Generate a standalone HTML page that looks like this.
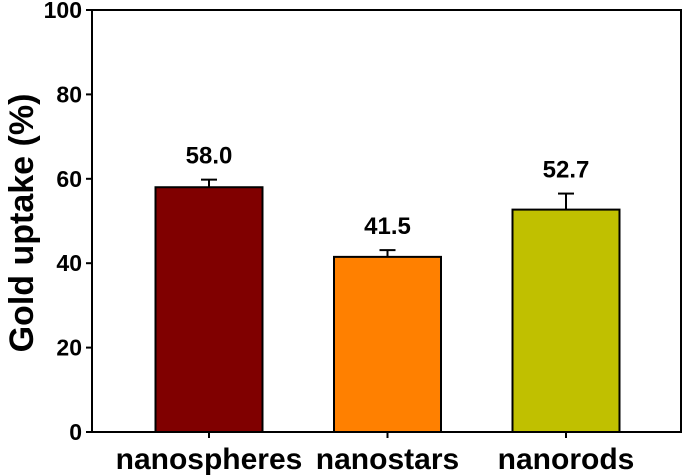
<!DOCTYPE html>
<html><head><meta charset="utf-8"><style>
body{margin:0;background:#fff;}
svg{display:block;font-family:"Liberation Sans",Arial,sans-serif;font-weight:bold;}
</style></head><body>
<svg id="chart" width="685" height="476"></svg>
<script>
const categories=["nanospheres","nanostars","nanorods"];
const values=[58.0,41.5,52.7];
const errors=[1.8,1.6,3.8];
const colors=["#800000","#ff8000","#c0c000"];
const yTicks=[0,20,40,60,80,100];
const valueLabels=["58.0","41.5","52.7"];

const NS="http://www.w3.org/2000/svg";
const svg=document.getElementById("chart");
const L=92,R=681,T=10,B=432;
const y=v=>B-(v/100)*(B-T);
const x=i=>209+i*178.5;
const bw=107;
function mk(tag,attrs,parent){const e=document.createElementNS(NS,tag);for(const k in attrs)e.setAttribute(k,attrs[k]);(parent||svg).appendChild(e);return e;}

const frame=mk("rect",{x:L,y:T,width:R-L,height:B-T,fill:"none",stroke:"#000","stroke-width":2});



yTicks.forEach(t=>{
  const ln=mk("line",{x1:L-6,x2:L,y1:y(t),y2:y(t),stroke:"#000","stroke-width":2});
  
  
  const tx=mk("text",{x:L-10,y:y(t)+8,"text-anchor":"end","font-size":23});
  tx.textContent=t;
  
  
});

categories.forEach((c,i)=>{
  const cx=x(i);
  const eb=mk("g",{});
  
  
  mk("line",{x1:cx,x2:cx,y1:y(values[i]),y2:y(values[i]+errors[i]),stroke:"#000","stroke-width":2},eb);
  mk("line",{x1:cx-8,x2:cx+8,y1:y(values[i]+errors[i]),y2:y(values[i]+errors[i]),stroke:"#000","stroke-width":2},eb);
  const r=mk("rect",{x:cx-bw/2,y:y(values[i]),width:bw,height:B-y(values[i]),fill:colors[i],stroke:"#000","stroke-width":2});
  
  
  const vl=mk("text",{x:cx,y:y(values[i]+errors[i])-16,"text-anchor":"middle","font-size":24});
  vl.textContent=valueLabels[i];
  
  
  const tk=mk("line",{x1:cx,x2:cx,y1:B,y2:B+6,stroke:"#000","stroke-width":2});
  
  
  const xl=mk("text",{x:cx,y:B+37,"text-anchor":"middle","font-size":30});
  xl.textContent=c;
  
  
});

const yt=mk("text",{x:0,y:0,"text-anchor":"middle","font-size":34,transform:"translate(33,"+((T+B)/2+2)+") rotate(-90)"});
yt.textContent="Gold uptake (%)";


</script>
</body></html>
